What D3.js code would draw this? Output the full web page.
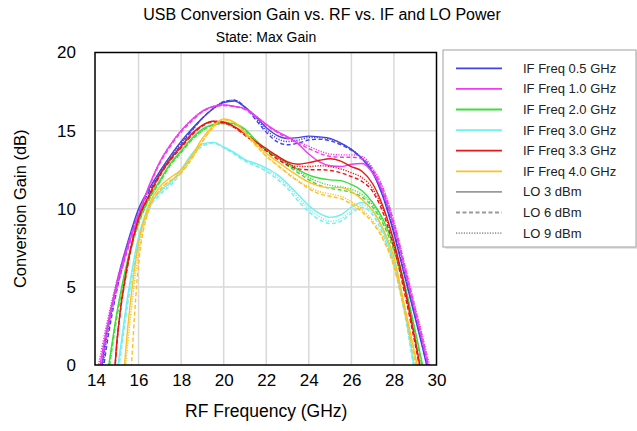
<!DOCTYPE html>
<html><head><meta charset="utf-8">
<script src="https://cdn.jsdelivr.net/npm/d3@7"></script>
<style>body{margin:0;background:#fff}svg{display:block}text{font-family:"Liberation Sans",Arial,sans-serif}</style>
</head><body><svg id="c" width="637" height="431"></svg>
<script>
const titleText = "USB Conversion Gain vs. RF vs. IF and LO Power";
const subtitleText = "State: Max Gain";
const xLabel = "RF Frequency (GHz)";
const yLabel = "Conversion Gain (dB)";
const xTicks = [14,16,18,20,22,24,26,28,30];
const yTicks = [0,5,10,15,20];
const freq = [14,14.5,15,15.5,16,16.5,17,17.5,18,18.5,19,19.5,20,20.5,21,21.5,22,22.5,23,23.5,24,24.5,25,25.5,26,26.5,27,27.5,28,28.5,29,29.5,30];

const ifNames = ["IF Freq 0.5 GHz","IF Freq 1.0 GHz","IF Freq 2.0 GHz","IF Freq 3.0 GHz","IF Freq 3.3 GHz","IF Freq 4.0 GHz"];
const ifColors = ["#4343E6","#F03CF0","#3EDC3E","#70F0F0","#E81818","#FFC020"];
const loNames = ["LO 3 dBm","LO 6 dBm","LO 9 dBm"];

// IF 0.5 GHz
const if05_lo3 = [-3,2.0,5.4,7.9,10.0,11.3,12.4,13.4,14.3,15.1,15.8,16.4,16.8,16.9,16.5,15.9,15.2,14.7,14.5,14.55,14.65,14.6,14.5,14.2,13.8,13.2,12.3,10.7,8.4,5.7,3.0,0.2,-3];
const if05_lo6 = [-4,1.2,4.9,7.6,9.7,11.1,12.2,13.2,14.1,15.0,15.8,16.4,16.85,16.95,16.5,15.7,14.9,14.3,14.1,14.2,14.4,14.45,14.35,14.1,13.75,13.2,12.4,10.8,8.5,5.8,3.1,0.3,-3];
const if05_lo9 = [-3.5,1.6,5.1,7.7,9.8,11.2,12.3,13.3,14.2,15.0,15.8,16.4,16.85,16.95,16.5,15.8,15.05,14.5,14.3,14.4,14.55,14.55,14.45,14.2,13.8,13.25,12.45,10.9,8.6,5.9,3.2,0.4,-3];
// IF 1.0 GHz
const if10_lo3 = [-1.5,2.3,5.3,7.6,9.6,11.5,13.0,14.1,15.0,15.7,16.25,16.55,16.65,16.55,16.4,15.95,15.4,14.95,14.6,14.15,13.5,13.0,12.75,12.7,12.85,12.9,12.3,11.0,8.9,6.2,3.4,0.6,-2.5];
const if10_lo6 = [-2,1.9,5.0,7.4,9.5,11.4,12.9,14.0,14.9,15.6,16.2,16.5,16.6,16.55,16.35,15.9,15.35,14.9,14.5,14.2,13.85,13.55,13.35,13.3,13.3,13.2,12.5,11.2,9.1,6.4,3.6,0.8,-2.5];
const if10_lo9 = [-0.8,2.6,5.5,7.8,9.7,11.5,13.0,14.1,15.0,15.7,16.25,16.55,16.65,16.55,16.4,15.95,15.4,14.95,14.6,14.3,14.0,13.7,13.5,13.45,13.45,13.35,12.6,11.3,9.2,6.5,3.7,1.0,-2];
// IF 2.0 GHz
const if20_lo3 = [-4,-0.8,3.5,6.8,9.2,10.7,11.8,12.9,13.7,14.5,15.1,15.4,15.5,15.45,15.1,14.4,13.8,13.35,12.95,12.5,12.15,11.95,11.85,11.8,11.55,11.15,10.4,9.3,7.6,5.2,2.2,-1.0,-4];
const if20_lo6 = [-4.5,-1.2,3.2,6.6,9.0,10.6,11.7,12.8,13.6,14.4,15.0,15.35,15.45,15.4,15.0,14.3,13.7,13.2,12.75,12.3,11.85,11.5,11.3,11.2,11.05,10.75,10.1,9.0,7.3,4.9,2.0,-1.2,-4];
const if20_lo9 = [-4.2,-1.0,3.4,6.7,9.1,10.6,11.7,12.8,13.6,14.4,15.0,15.35,15.45,15.4,15.05,14.35,13.75,13.3,12.85,12.4,12.0,11.7,11.5,11.4,11.25,10.9,10.25,9.15,7.45,5.05,2.1,-1.1,-4];
// IF 3.0 GHz
const if30_lo3 = [-8,-4,-0.3,4.5,8.2,10.2,11.1,11.7,12.5,13.5,14.15,14.25,13.95,13.6,13.15,12.9,12.6,12.2,11.6,10.9,10.2,9.7,9.45,9.6,10.1,10.4,9.9,8.6,6.6,3.6,-0.4,-4,-8];
const if30_lo6 = [-8,-4.5,-0.8,4.0,7.9,10.0,10.9,11.5,12.3,13.3,14.0,14.2,13.9,13.5,13.05,12.75,12.4,11.9,11.3,10.5,9.8,9.3,9.05,9.2,9.7,10.1,9.6,8.3,6.3,3.3,-0.7,-4,-8];
const if30_lo9 = [-8,-4.2,-0.5,4.2,8.0,10.1,11.0,11.6,12.4,13.4,14.1,14.25,13.95,13.55,13.1,12.8,12.5,12.05,11.45,10.7,10.0,9.5,9.2,9.35,9.85,10.25,9.75,8.45,6.45,3.45,-0.5,-4,-8];
// IF 3.3 GHz
const if33_lo3 = [-14,-8,1.8,6.6,9.4,10.9,12.2,13.2,14.0,14.8,15.35,15.6,15.55,15.25,14.8,14.3,13.85,13.4,13.0,12.85,12.95,13.1,13.2,13.05,12.7,12.4,11.6,10.1,7.9,5.0,1.6,-2,-5];
const if33_lo6 = [-14,-8,1.6,6.4,9.3,10.8,12.1,13.1,13.9,14.7,15.3,15.55,15.5,15.2,14.7,14.2,13.7,13.2,12.8,12.55,12.5,12.5,12.45,12.3,12.05,11.75,11.1,9.7,7.5,4.6,1.3,-2.2,-5];
const if33_lo9 = [-14,-8,1.7,6.5,9.35,10.85,12.15,13.15,13.95,14.75,15.3,15.6,15.5,15.2,14.75,14.25,13.75,13.3,12.9,12.7,12.7,12.75,12.7,12.55,12.3,12.0,11.3,9.9,7.7,4.8,1.45,-2.1,-5];
// IF 4.0 GHz
const if40_lo3 = [-20,-14,-6,2.5,7.8,10.3,11.4,12.0,12.5,13.4,14.5,15.3,15.75,15.55,14.9,14.2,13.55,13.05,12.55,12.1,11.7,11.45,11.35,11.35,11.1,10.6,9.9,8.7,6.9,3.8,0.6,-2.5,-6];
const if40_lo6 = [-20,-14,-8,-3,6.5,10.0,11.2,11.8,12.3,13.2,14.3,15.2,15.7,15.5,14.8,14.05,13.35,12.8,12.25,11.75,11.3,10.95,10.8,10.65,10.3,9.8,9.1,8.0,6.3,3.4,0.2,-3,-6];
const if40_lo9 = [-20,-14,-6,1.5,7.2,10.0,11.2,11.8,12.3,13.2,14.3,15.2,15.7,15.5,14.85,14.1,13.4,12.85,12.3,11.8,11.4,11.1,10.95,10.8,10.45,9.95,9.25,8.15,6.45,3.55,0.35,-3,-6];

const seriesValues = [
  [if05_lo3,if05_lo6,if05_lo9],
  [if10_lo3,if10_lo6,if10_lo9],
  [if20_lo3,if20_lo6,if20_lo9],
  [if30_lo3,if30_lo6,if30_lo9],
  [if33_lo3,if33_lo6,if33_lo9],
  [if40_lo3,if40_lo6,if40_lo9]
];
const dashes = [null,"4,2.5","1.2,1.4"];

const svg = d3.select("#c");
const L = 96, R = 436.5, T = 52.5, B = 365;
const x = d3.scaleLinear().domain([14,30]).range([L,R]);
const y = d3.scaleLinear().domain([0,20]).range([B,T]);

// grid
const g = svg.append("g");
g.selectAll(".gx").data(xTicks.slice(1,-1)).join("line")
  .attr("x1",d=>x(d)).attr("x2",d=>x(d)).attr("y1",T).attr("y2",B)
  .attr("stroke","#d9d9d9").attr("stroke-width",1.5);
g.selectAll(".gy").data(yTicks.slice(1,-1)).join("line")
  .attr("x1",L).attr("x2",R).attr("y1",d=>y(d)).attr("y2",d=>y(d))
  .attr("stroke","#d9d9d9").attr("stroke-width",1.5);

svg.append("clipPath").attr("id","clip").append("rect")
  .attr("x",L).attr("y",T).attr("width",R-L).attr("height",B-T);

const line = d3.line().x((d,i)=>x(freq[i])).y(d=>y(d)).curve(d3.curveMonotoneX);
const lines = svg.append("g").attr("clip-path","url(#clip)");
seriesValues.forEach((grp,ci)=>{
  grp.forEach((vals,li)=>{
    lines.append("path").datum(vals).attr("d",line)
      .attr("fill","none").attr("stroke",ifColors[ci]).attr("stroke-width",1.4)
      .attr("stroke-dasharray",dashes[li]);
  });
});

// frame
svg.append("rect").attr("x",L-1).attr("y",T).attr("width",R-L+1).attr("height",B-T)
  .attr("fill","none").attr("stroke","#000").attr("stroke-width",1.5);

// axes
const xAxis = svg.append("g").attr("transform",`translate(0,${B})`)
  .call(d3.axisBottom(x).tickValues(xTicks).tickSize(0).tickPadding(9).tickFormat(d3.format("d")));
xAxis.select(".domain").remove();
xAxis.selectAll("text").attr("font-size",17).attr("fill","#000").style("font-family","'Liberation Sans',Arial,sans-serif");
const yAxis = svg.append("g").attr("transform",`translate(${L},0)`)
  .call(d3.axisLeft(y).tickValues(yTicks).tickSize(0).tickPadding(20).tickFormat(d3.format("d")));
yAxis.select(".domain").remove();
yAxis.selectAll("text").attr("font-size",17).attr("fill","#000").style("font-family","'Liberation Sans',Arial,sans-serif");

svg.append("text").attr("x",(L+R)/2).attr("y",417).attr("text-anchor","middle")
  .attr("font-size",17.5).text(xLabel);
svg.append("text").attr("transform",`translate(26,${(T+B)/2}) rotate(-90)`).attr("text-anchor","middle")
  .attr("font-size",16.5).text(yLabel);

svg.append("text").attr("x",322).attr("y",20).attr("text-anchor","middle")
  .attr("font-size",16).text(titleText);
svg.append("text").attr("x",266).attr("y",42).attr("text-anchor","middle")
  .attr("font-size",14).text(subtitleText);

// legend
const lg = svg.append("g");
lg.append("rect").attr("x",445).attr("y",52).attr("width",193).attr("height",197)
  .attr("fill","#e6e6e6");
lg.append("rect").attr("x",443).attr("y",50).attr("width",193).attr("height",197)
  .attr("fill","#fff").attr("stroke","#a0a0a0").attr("stroke-width",1);
const legendItems = ifNames.map((n,i)=>({name:n,color:ifColors[i],dash:null}))
  .concat(loNames.map((n,i)=>({name:n,color:"#9a9a9a",dash:dashes[i]})));
const ly = d3.scaleLinear().domain([0,8]).range([68.3,233.1]);
legendItems.forEach((it,i)=>{
  lg.append("line").attr("x1",456).attr("x2",502).attr("y1",ly(i)).attr("y2",ly(i))
    .attr("stroke",it.color).attr("stroke-width",1.8).attr("stroke-dasharray",it.dash);
  lg.append("text").attr("x",523).attr("y",ly(i)+4.5).attr("font-size",13).attr("fill","#222").text(it.name);
});
</script></body></html>
